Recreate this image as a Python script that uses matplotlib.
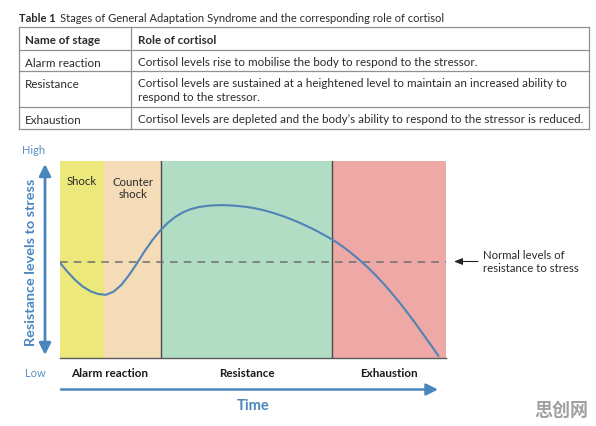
import matplotlib
matplotlib.use('Agg')
import matplotlib.pyplot as plt
from matplotlib.patches import FancyArrowPatch
import numpy as np

plt.rcParams['font.family'] = ['Lato', 'DejaVu Sans']

# ––– table content
table_title = 'Stages of General Adaptation Syndrome and the corresponding role of cortisol'
table_header = ['Name of stage', 'Role of cortisol']
stage_names = ['Alarm reaction', 'Resistance', 'Exhaustion']
cortisol_roles = ['Cortisol levels rise to mobilise the body to respond to the stressor.',
                  'Cortisol levels are sustained at a heightened level to maintain an increased ability to\nrespond to the stressor.',
                  'Cortisol levels are depleted and the body\u2019s ability to respond to the stressor is reduced.']

# ––– chart data (time 0-100, resistance 0-100)
band_edges = [0, 11.6, 26.3, 70.4, 100]
band_colors = ['#ECE87C', '#F5DCB8', '#B2DDC5', '#EEA8A6']
normal_level = 48.8
time_pts = [0, 2, 4, 6, 8, 10, 12, 14, 16, 18, 20, 22, 24, 26, 28, 30, 32, 34, 36, 38,
            40, 42, 44, 46, 48, 50, 52, 54, 56, 58, 60, 62, 64, 66, 68, 70, 72, 74, 76,
            78, 80, 82, 84, 86, 88, 90, 92, 94, 96, 98]
resist_pts = [48.5, 43.8, 39.6, 36.2, 33.8, 32.4, 32.0, 33.6, 37.0, 42.0, 47.8, 54.0, 59.6,
              64.4, 68.4, 71.5, 73.8, 75.4, 76.4, 77.0, 77.3, 77.4, 77.3, 77.0, 76.6, 76.0,
              75.2, 74.2, 73.0, 71.7, 70.2, 68.6, 66.8, 64.9, 62.8, 60.6, 58.2, 55.4, 52.3,
              49.0, 45.4, 41.5, 37.3, 32.8, 28.0, 23.0, 17.8, 12.3, 6.8, 1.2]

W, H = 596, 427
fig = plt.figure(figsize=(W / 100, H / 100), dpi=100)

# overlay in pixel units for the table and annotations
ov = fig.add_axes([0, 0, 1, 1])
ov.set_xlim(0, W)
ov.set_ylim(H, 0)
ov.axis('off')

txt = '#2b2b2b'
grid = '#909090'
fs = 8.35

# ––– table
t1 = ov.text(19, 18, 'Table 1', fontsize=8, fontweight='bold', color=txt, va='center')
fig.canvas.draw()
bb = t1.get_window_extent()
ov.text(bb.x1 + 4, 18, table_title, fontsize=8, color=txt, va='center')
row_y = [28, 51, 72, 108, 130]
for y in row_y:
    ov.plot([18.5, 589], [y, y], color=grid, lw=0.9)
for x in [18.5, 131, 589]:
    ov.plot([x, x], [row_y[0], row_y[-1]], color=grid, lw=0.9)
ov.text(25, 40.5, table_header[0], fontsize=fs, fontweight='bold', color=txt, va='center')
ov.text(138, 40.5, table_header[1], fontsize=fs, fontweight='bold', color=txt, va='center')
for i in range(3):
    top = row_y[i + 1]
    ov.text(25, top + 12.3, stage_names[i], fontsize=fs, color=txt, va='center')
    ov.text(138, top + 6, cortisol_roles[i], fontsize=fs, color=txt, va='top', linespacing=1.3)

# ––– main chart
ax = fig.add_axes([59.5 / W, (H - 359) / H, (446 - 59.5) / W, (359 - 161.5) / H])
for i in range(4):
    ax.axvspan(band_edges[i], band_edges[i + 1], color=band_colors[i], lw=0)
for x in [band_edges[2], band_edges[3]]:
    ax.axvline(x, color='#4a4a4a', lw=1)
ax.axhline(normal_level, color='#6f6f6f', lw=1.1, dashes=(5, 4))
ax.plot(time_pts, resist_pts, color='#4F84B5', lw=1.5, solid_joinstyle='round')
ax.set_xlim(0, 100)
ax.set_ylim(0, 100)
ax.set_xticks([])
ax.set_yticks([])
for s in ['top', 'right', 'left']:
    ax.spines[s].set_visible(False)
ax.spines['bottom'].set_color('#5a5a5a')
ax.spines['bottom'].set_linewidth(1)

ax.text(band_edges[0] + 5.8, 90, 'Shock', fontsize=8.2, color=txt, ha='center', va='center')
ax.text((band_edges[1] + band_edges[2]) / 2, 86.5, 'Counter\nshock', fontsize=8.2, color=txt,
        ha='center', va='center', linespacing=1.1)

blue = '#4A86BE'
ov.add_patch(FancyArrowPatch((45, 165), (45, 356), arrowstyle='<|-|>,head_length=7,head_width=3.5',
                             color=blue, lw=2, mutation_scale=1, shrinkA=0, shrinkB=0))
ov.add_patch(FancyArrowPatch((61, 390.5), (438, 390.5), arrowstyle='-|>,head_length=7,head_width=3.5',
                             color=blue, lw=1.8, mutation_scale=1, shrinkA=0, shrinkB=0))
ov.add_patch(FancyArrowPatch((478, 262.5), (454, 262.5), arrowstyle='-|>,head_length=5,head_width=2',
                             color='#222222', lw=0.8, mutation_scale=1, shrinkA=0, shrinkB=0))

ov.text(34, 151, 'High', fontsize=8, color='#5b8fc2', ha='center', va='center')
ov.text(35, 374, 'Low', fontsize=8, color='#5b8fc2', ha='center', va='center')
ov.text(31, 262, 'Resistance levels to stress', fontsize=10.4, fontweight='bold', color=blue,
        rotation=90, ha='center', va='center')
ov.text(110, 374, 'Alarm reaction', fontsize=8.4, fontweight='bold', color='#1a1a1a', ha='center', va='center')
ov.text(247, 374, 'Resistance', fontsize=8.4, fontweight='bold', color='#1a1a1a', ha='center', va='center')
ov.text(389, 374, 'Exhaustion', fontsize=8.4, fontweight='bold', color='#1a1a1a', ha='center', va='center')
ov.text(253, 406.5, 'Time', fontsize=10.5, fontweight='bold', color=blue, ha='center', va='center')
ov.text(483, 262, 'Normal levels of\nresistance to stress', fontsize=8.2, color=txt, ha='left', va='center',
        linespacing=1.3)

ov.text(561, 410, '思创网', fontsize=13, fontweight='bold', color='#a0a0a0', ha='center', va='center',
        family=['Noto Sans CJK SC', 'DejaVu Sans'])

plt.savefig('out.png', dpi=100)
